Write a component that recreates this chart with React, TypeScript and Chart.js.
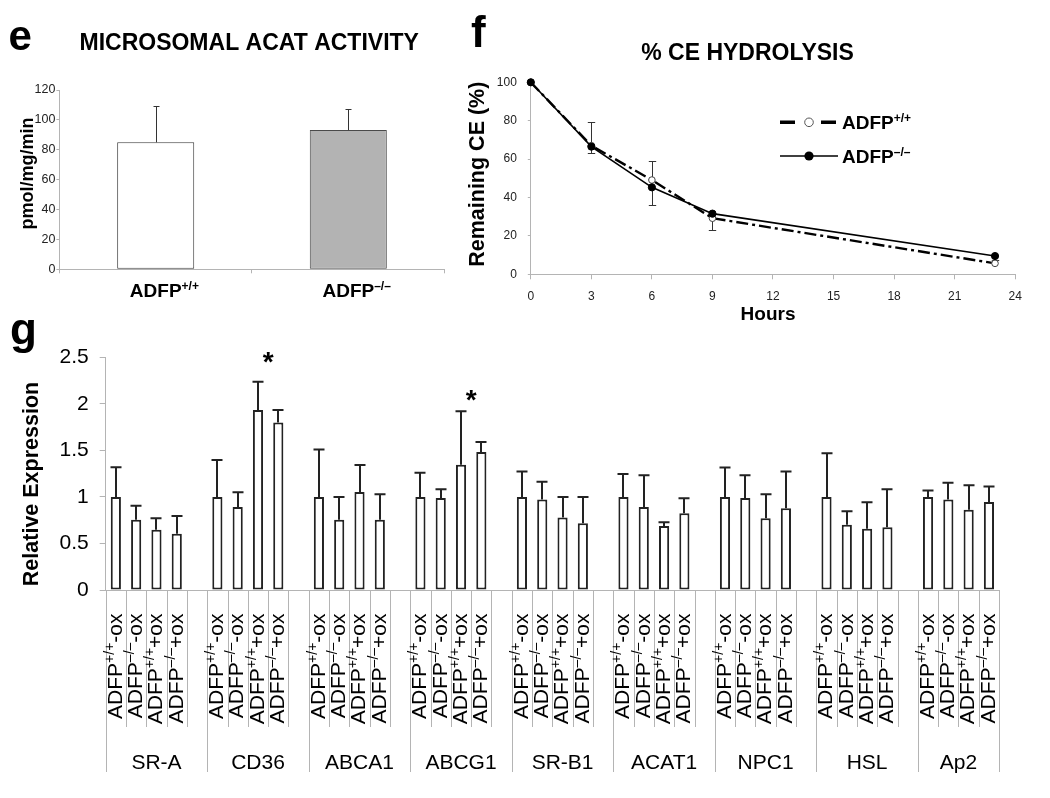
import React, { useEffect, useRef } from 'react';
import { Chart, registerables } from 'chart.js';

Chart.register(...registerables);

const SANS = '"Liberation Sans", Arial, Helvetica, sans-serif';
const NARROW = '"Liberation Sans Narrow", "Arial Narrow", "Liberation Sans", Arial, sans-serif';
const AXIS_GRAY = '#b4b4b4';
Chart.defaults.font.family = SANS;

// ---------- panel e : microsomal ACAT activity ----------
const acatGenotypes = ['ADFP+/+', 'ADFP–/–'];
const acatGenotypeSup = ['+/+', '–/–'];
const acatActivity = [85.0, 93.2];
const acatActivitySd = [24.3, 13.9];
const acatTicks = [0, 20, 40, 60, 80, 100, 120];

// ---------- panel f : % CE hydrolysis ----------
const hydrolysisHours = [0, 3, 6, 9, 23];
const remainingWild = [100, 67.0, 49.1, 29.2, 5.7];
const remainingKnockout = [100, 66.5, 45.3, 31.6, 9.5];
const remainingWildErrUp = [0, 12.2, 9.8, 0, 1.7];
const remainingKnockoutErrDown = [0, 3.5, 9.2, 8.5, 0];
const hourTicks = [0, 3, 6, 9, 12, 15, 18, 21, 24];
const remainingTicks = [0, 20, 40, 60, 80, 100];

// ---------- panel g : relative expression ----------
const genes = ['SR-A', 'CD36', 'ABCA1', 'ABCG1', 'SR-B1', 'ACAT1', 'NPC1', 'HSL', 'Ap2'];
const conditionSup = ['+/+', '–/–', '+/+', '–/–'];
const conditionSuffix = ['-ox', '-ox', '+ox', '+ox'];
const wtMinusOx = [1.0, 1.0, 1.0, 1.0, 1.0, 1.0, 1.0, 1.0, 1.0];
const koMinusOx = [0.755, 0.892, 0.755, 0.989, 0.971, 0.892, 0.989, 0.701, 0.971];
const wtPlusOx = [0.647, 1.935, 1.054, 1.345, 0.78, 0.687, 0.77, 0.658, 0.863];
const koPlusOx = [0.604, 1.8, 0.755, 1.482, 0.716, 0.824, 0.878, 0.673, 0.946];
const wtMinusOxSd = [0.32, 0.396, 0.51, 0.259, 0.273, 0.245, 0.317, 0.468, 0.068];
const koMinusOxSd = [0.151, 0.158, 0.245, 0.094, 0.191, 0.342, 0.245, 0.144, 0.18];
const wtPlusOxSd = [0.123, 0.302, 0.288, 0.575, 0.22, 0.04, 0.259, 0.284, 0.263];
const koPlusOxSd = [0.191, 0.135, 0.274, 0.108, 0.284, 0.162, 0.395, 0.41, 0.165];
const expressionTicks = [0, 0.5, 1, 1.5, 2, 2.5];
const expressionTickLabels = ['0', '0.5', '1', '1.5', '2', '2.5'];
const significantGenes = ['CD36', 'ABCG1'];
const significantMarkLevel = [2.52, 2.115];

// build the slot table (4 conditions + blank spacer per gene)
const conditionSeries = [wtMinusOx, koMinusOx, wtPlusOx, koPlusOx];
const conditionSd = [wtMinusOxSd, koMinusOxSd, wtPlusOxSd, koPlusOxSd];
const slotLabels: string[] = [];
const slotValues: (number | null)[] = [];
const slotSd: (number | null)[] = [];
const slotCondition: number[] = [];
genes.forEach((g, gi) => {
  conditionSeries.forEach((series, ci) => {
    slotLabels.push(`${g} ADFP${conditionSup[ci]}${conditionSuffix[ci]}`);
    slotValues.push(series[gi]);
    slotSd.push(conditionSd[ci][gi]);
    slotCondition.push(ci);
  });
  if (gi < genes.length - 1) {
    slotLabels.push(`${g} `);
    slotValues.push(null);
    slotSd.push(null);
    slotCondition.push(-1);
  }
});

function narrowAvailable(): boolean {
  try {
    const c = document.createElement('canvas').getContext('2d');
    if (!c) return false;
    c.font = '40px monospace';
    const a = c.measureText('100 Hours 24').width;
    c.font = '40px "Liberation Sans Narrow", monospace';
    const b = c.measureText('100 Hours 24').width;
    return Math.abs(a - b) > 0.5;
  } catch (e) {
    return false;
  }
}
function tickFont(narrowSize: number, fallbackSize: number) {
  return narrowAvailable()
    ? { family: NARROW, size: narrowSize }
    : { family: SANS, size: fallbackSize };
}

type Part = { text: string; font: string; raise?: number };
function partsWidth(ctx: CanvasRenderingContext2D, parts: Part[]) {
  let w = 0;
  parts.forEach((p) => {
    ctx.font = p.font;
    w += ctx.measureText(p.text).width;
  });
  return w;
}
function drawParts(ctx: CanvasRenderingContext2D, parts: Part[], x: number, y: number) {
  let cx = x;
  ctx.textAlign = 'left';
  parts.forEach((p) => {
    ctx.font = p.font;
    ctx.fillText(p.text, cx, y - (p.raise || 0));
    cx += ctx.measureText(p.text).width;
  });
}
function drawRotated(ctx: CanvasRenderingContext2D, text: string, font: string, x: number, y: number) {
  ctx.save();
  ctx.translate(x, y);
  ctx.rotate(-Math.PI / 2);
  ctx.font = font;
  ctx.textAlign = 'center';
  ctx.textBaseline = 'middle';
  ctx.fillText(text, 0, 0);
  ctx.restore();
}

// ---------------- panel e ----------------
const panelEPlugin = {
  id: 'panelE',
  afterDatasetsDraw(chart: any) {
    const ctx = chart.ctx;
    const ys = chart.scales.y;
    const meta = chart.getDatasetMeta(0);
    ctx.save();
    ctx.strokeStyle = '#333';
    ctx.lineWidth = 1;
    meta.data.forEach((bar: any, i: number) => {
      const top = ys.getPixelForValue(acatActivity[i] + acatActivitySd[i]);
      const x = Math.round(bar.x) + 0.5;
      ctx.beginPath();
      ctx.moveTo(x, bar.y);
      ctx.lineTo(x, top);
      ctx.moveTo(x - 3, Math.round(top) + 0.5);
      ctx.lineTo(x + 3, Math.round(top) + 0.5);
      ctx.stroke();
    });
    ctx.restore();
  },
  afterDraw(chart: any) {
    const ctx = chart.ctx;
    const xs = chart.scales.x;
    ctx.save();
    ctx.fillStyle = '#000';
    ctx.textBaseline = 'alphabetic';
    ctx.textAlign = 'left';
    ctx.font = `bold 42px ${SANS}`;
    ctx.fillText('e', 8.5, 49.5);
    ctx.textAlign = 'center';
    ctx.font = `bold 23px ${SANS}`;
    ctx.fillText('MICROSOMAL ACAT ACTIVITY', 249.2, 50);
    drawRotated(ctx, 'pmol/mg/min', `bold 18px ${SANS}`, 28.5, 173.5);
    acatGenotypeSup.forEach((sup, i) => {
      const cx = xs.getPixelForValue(i);
      ctx.font = `bold 19px ${SANS}`;
      const wb = ctx.measureText('ADFP').width;
      drawParts(ctx, [
        { text: 'ADFP', font: `bold 19px ${SANS}` },
        { text: sup, font: `bold 12px ${SANS}`, raise: 7 },
      ], cx - wb / 2, 296.8);
    });
    ctx.restore();
  },
};

function buildE(): any {
  return {
    type: 'bar',
    data: {
      labels: acatGenotypes,
      datasets: [{
        data: acatActivity,
        backgroundColor: ['#ffffff', '#b3b3b3'],
        borderColor: ['#3c3c3c', '#4a4a4a'],
        borderWidth: 1,
        borderSkipped: false,
        barPercentage: 0.4,
        categoryPercentage: 1,
      }],
    },
    options: {
      responsive: false,
      animation: false,
      events: [],
      layout: { padding: { left: 0, right: 5.4, top: 90, bottom: 0 } },
      plugins: { legend: { display: false }, tooltip: { enabled: false } },
      scales: {
        x: {
          grid: { display: true, drawOnChartArea: false, drawTicks: true, tickLength: 4, color: AXIS_GRAY, offset: true },
          border: { display: true, color: AXIS_GRAY },
          ticks: { display: false },
          afterFit: (s: any) => { s.height = 50.7; },
        },
        y: {
          min: 0,
          max: 120,
          afterBuildTicks: (s: any) => { s.ticks = acatTicks.map((v) => ({ value: v })); },
          grid: { drawOnChartArea: false, tickLength: 3, color: AXIS_GRAY },
          border: { color: AXIS_GRAY },
          ticks: { font: tickFont(14, 12.5), color: '#222', padding: 1, callback: (v: any) => String(v) },
          afterFit: (s: any) => { s.width = 59.4; },
        },
      },
    },
    plugins: [panelEPlugin],
  };
}

// ---------------- panel f ----------------
const panelFPlugin = {
  id: 'panelF',
  beforeDatasetsDraw(chart: any) {
    const ctx = chart.ctx;
    const xs = chart.scales.x;
    const ys = chart.scales.y;
    ctx.save();
    ctx.strokeStyle = '#333';
    ctx.lineWidth = 1;
    hydrolysisHours.forEach((h, i) => {
      const px = Math.round(xs.getPixelForValue(h)) + 0.5;
      const segs: number[][] = [];
      if (remainingWildErrUp[i] > 0) segs.push([remainingWild[i], remainingWild[i] + remainingWildErrUp[i]]);
      if (remainingKnockoutErrDown[i] > 0) segs.push([remainingKnockout[i], remainingKnockout[i] - remainingKnockoutErrDown[i]]);
      segs.forEach(([a, b]) => {
        const ya = ys.getPixelForValue(a);
        const yb = Math.round(ys.getPixelForValue(b)) + 0.5;
        ctx.beginPath();
        ctx.moveTo(px, ya);
        ctx.lineTo(px, yb);
        ctx.moveTo(px - 3.7, yb);
        ctx.lineTo(px + 3.7, yb);
        ctx.stroke();
      });
    });
    ctx.restore();
  },
  afterDraw(chart: any) {
    const ctx = chart.ctx;
    ctx.save();
    ctx.fillStyle = '#000';
    ctx.textBaseline = 'alphabetic';
    ctx.textAlign = 'left';
    ctx.font = `bold 44px ${SANS}`;
    ctx.fillText('f', 31, 46.7);
    ctx.textAlign = 'center';
    ctx.font = `bold 23px ${SANS}`;
    ctx.fillText('% CE HYDROLYSIS', 307.5, 59.5);
    ctx.font = `bold 19px ${SANS}`;
    ctx.fillText('Hours', 328, 320);
    drawRotated(ctx, 'Remaining CE (%)', `bold 21.5px ${SANS}`, 38.5, 174.2);

    // legend
    ctx.strokeStyle = '#000';
    ctx.lineCap = 'butt';
    const r1 = 122.3;
    ctx.lineWidth = 3.4;
    ctx.beginPath();
    ctx.moveTo(340, r1); ctx.lineTo(355, r1);
    ctx.moveTo(381, r1); ctx.lineTo(396, r1);
    ctx.stroke();
    ctx.lineWidth = 1;
    ctx.beginPath();
    ctx.arc(369, r1, 4.3, 0, Math.PI * 2);
    ctx.fillStyle = '#fff';
    ctx.fill();
    ctx.strokeStyle = '#555';
    ctx.stroke();
    const r2 = 156;
    ctx.strokeStyle = '#000';
    ctx.lineWidth = 1.5;
    ctx.beginPath();
    ctx.moveTo(340, r2); ctx.lineTo(398, r2);
    ctx.stroke();
    ctx.beginPath();
    ctx.arc(369, r2, 4.6, 0, Math.PI * 2);
    ctx.fillStyle = '#000';
    ctx.fill();
    drawParts(ctx, [
      { text: 'ADFP', font: `bold 19px ${SANS}` },
      { text: '+/+', font: `bold 12px ${SANS}`, raise: 7 },
    ], 402, r1 + 6.8);
    drawParts(ctx, [
      { text: 'ADFP', font: `bold 19px ${SANS}` },
      { text: '–/–', font: `bold 12px ${SANS}`, raise: 7 },
    ], 402, r2 + 6.8);
    ctx.restore();
  },
};

function buildF(): any {
  const tf = tickFont(12, 12);
  return {
    type: 'line',
    data: {
      datasets: [
        {
          label: 'ADFP–/–',
          data: hydrolysisHours.map((h, i) => ({ x: h, y: remainingKnockout[i] })),
          borderColor: '#000',
          borderWidth: 1.6,
          pointRadius: 3.6,
          pointBackgroundColor: '#000',
          pointBorderColor: '#000',
          pointBorderWidth: 1,
          tension: 0,
          clip: false,
        },
        {
          label: 'ADFP+/+',
          data: hydrolysisHours.map((h, i) => ({ x: h, y: remainingWild[i] })),
          borderColor: '#000',
          borderWidth: 2.4,
          borderDash: [12, 4, 3, 4],
          pointRadius: 3.3,
          pointBackgroundColor: '#fff',
          pointBorderColor: '#444',
          pointBorderWidth: 1,
          tension: 0,
          clip: false,
        },
      ],
    },
    options: {
      responsive: false,
      animation: false,
      events: [],
      layout: { padding: { left: 0, right: 34.8, top: 82.3, bottom: 0 } },
      plugins: { legend: { display: false }, tooltip: { enabled: false } },
      scales: {
        x: {
          type: 'linear',
          min: 0,
          max: 24,
          afterBuildTicks: (s: any) => { s.ticks = hourTicks.map((v) => ({ value: v })); },
          grid: { drawOnChartArea: false, tickLength: 5, color: AXIS_GRAY },
          border: { color: AXIS_GRAY },
          ticks: { font: tf, color: '#222', padding: 10, maxRotation: 0, autoSkip: false, callback: (v: any) => String(v) },
          afterFit: (s: any) => { s.height = 55.7; },
        },
        y: {
          min: 0,
          max: 100,
          afterBuildTicks: (s: any) => { s.ticks = remainingTicks.map((v) => ({ value: v })); },
          grid: { drawOnChartArea: false, tickLength: 3, color: AXIS_GRAY },
          border: { color: AXIS_GRAY },
          ticks: { font: tf, color: '#222', padding: 11, callback: (v: any) => String(v) },
          afterFit: (s: any) => { s.width = 90.8; },
        },
      },
    },
    plugins: [panelFPlugin],
  };
}

// ---------------- panel g ----------------
function drawSlotLabel(ctx: CanvasRenderingContext2D, cx: number, yEnd: number, sup: string, suffix: string) {
  const baseFont = `21px ${SANS}`;
  const supFont = `14px ${SANS}`;
  const parts: Part[] = [
    { text: 'ADFP', font: baseFont },
    { text: sup, font: supFont, raise: 8 },
    { text: suffix, font: baseFont },
  ];
  ctx.save();
  ctx.translate(cx + 5.8, yEnd);
  ctx.rotate(-Math.PI / 2);
  ctx.textBaseline = 'alphabetic';
  const w = partsWidth(ctx, parts);
  drawParts(ctx, parts, -w, 0);
  ctx.restore();
}

const panelGPlugin = {
  id: 'panelG',
  afterDatasetsDraw(chart: any) {
    const ctx = chart.ctx;
    const ys = chart.scales.y;
    const meta = chart.getDatasetMeta(0);
    ctx.save();
    ctx.strokeStyle = '#222';
    ctx.lineWidth = 2;
    slotValues.forEach((v, i) => {
      if (v == null) return;
      const bar = meta.data[i];
      const top = ys.getPixelForValue(v + (slotSd[i] as number));
      const x = Math.round(bar.x);
      ctx.beginPath();
      ctx.moveTo(x, bar.y);
      ctx.lineTo(x, top);
      ctx.moveTo(x - 5.5, top);
      ctx.lineTo(x + 5.5, top);
      ctx.stroke();
    });
    ctx.restore();
  },
  afterDraw(chart: any) {
    const ctx = chart.ctx;
    const xs = chart.scales.x;
    const ys = chart.scales.y;
    const bottom = chart.chartArea.bottom;
    const n = slotLabels.length;
    const step = xs.getPixelForValue(1) - xs.getPixelForValue(0);
    const boundary = (i: number) => xs.getPixelForValue(0) - step / 2 + i * step;
    ctx.save();
    ctx.strokeStyle = AXIS_GRAY;
    ctx.lineWidth = 1;
    for (let i = 0; i <= n; i++) {
      const isGroup = i % 5 === 0 || i === n;
      const px = Math.round(boundary(i)) + 0.5;
      ctx.beginPath();
      ctx.moveTo(px, bottom);
      ctx.lineTo(px, bottom + (isGroup ? 182 : 137));
      ctx.stroke();
    }
    ctx.fillStyle = '#000';
    slotCondition.forEach((ci, i) => {
      if (ci < 0) return;
      drawSlotLabel(ctx, xs.getPixelForValue(i), bottom + 23.5, conditionSup[ci], conditionSuffix[ci]);
    });
    ctx.textAlign = 'center';
    ctx.textBaseline = 'alphabetic';
    ctx.font = `21px ${SANS}`;
    genes.forEach((g, gi) => {
      const a = boundary(gi * 5);
      const b = boundary(Math.min(gi * 5 + 5, n));
      ctx.fillText(g, (a + b) / 2, bottom + 179.3);
    });
    ctx.font = `bold 28px ${SANS}`;
    significantGenes.forEach((g, k) => {
      const gi = genes.indexOf(g);
      const cx = (xs.getPixelForValue(gi * 5 + 2) + xs.getPixelForValue(gi * 5 + 3)) / 2;
      const cy = ys.getPixelForValue(significantMarkLevel[k]);
      ctx.fillText('*', cx, cy + 16);
    });
    ctx.textAlign = 'left';
    ctx.font = `bold 44px ${SANS}`;
    ctx.fillText('g', 10, 44);
    drawRotated(ctx, 'Relative Expression', `bold 21.5px ${SANS}`, 32.5, 184);
    ctx.restore();
  },
};

function buildG(): any {
  return {
    type: 'bar',
    data: {
      labels: slotLabels,
      datasets: [{
        data: slotValues,
        backgroundColor: '#ffffff',
        borderColor: '#222',
        borderWidth: 2,
        borderSkipped: false,
        barPercentage: 0.5,
        categoryPercentage: 1,
      }],
    },
    options: {
      responsive: false,
      animation: false,
      events: [],
      layout: { padding: { left: 0, right: 50.9, top: 57.3, bottom: 0 } },
      plugins: { legend: { display: false }, tooltip: { enabled: false } },
      scales: {
        x: {
          grid: { display: true, drawOnChartArea: false, drawTicks: false },
          border: { display: true, color: AXIS_GRAY },
          ticks: { display: false },
          afterFit: (s: any) => { s.height = 208; },
        },
        y: {
          min: 0,
          max: 2.5,
          afterBuildTicks: (s: any) => { s.ticks = expressionTicks.map((v) => ({ value: v })); },
          grid: { drawOnChartArea: false, tickLength: 6, color: AXIS_GRAY },
          border: { color: AXIS_GRAY },
          ticks: { font: { family: SANS, size: 21 }, color: '#000', padding: 11, callback: (_v: any, i: number) => expressionTickLabels[i] },
          afterFit: (s: any) => { s.width = 105.7; },
        },
      },
    },
    plugins: [panelGPlugin],
  };
}

function PanelCanvas({ x, y, w, h, build }: { x: number; y: number; w: number; h: number; build: () => any }) {
  const ref = useRef<HTMLCanvasElement | null>(null);
  useEffect(() => {
    if (!ref.current) return;
    const chart = new Chart(ref.current, build());
    return () => chart.destroy();
  }, []);
  return (
    <canvas
      ref={ref}
      width={w}
      height={h}
      style={{ position: 'absolute', left: x, top: y, width: w, height: h, display: 'block' }}
    />
  );
}

export default function App() {
  return (
    <div style={{ position: 'absolute', left: 0, top: 0, width: 1050, height: 798, background: '#fff', overflow: 'hidden' }}>
      <PanelCanvas x={0} y={0} w={450} h={320} build={buildE} />
      <PanelCanvas x={440} y={0} w={610} h={330} build={buildF} />
      <PanelCanvas x={0} y={300} w={1050} h={498} build={buildG} />
    </div>
  );
}
